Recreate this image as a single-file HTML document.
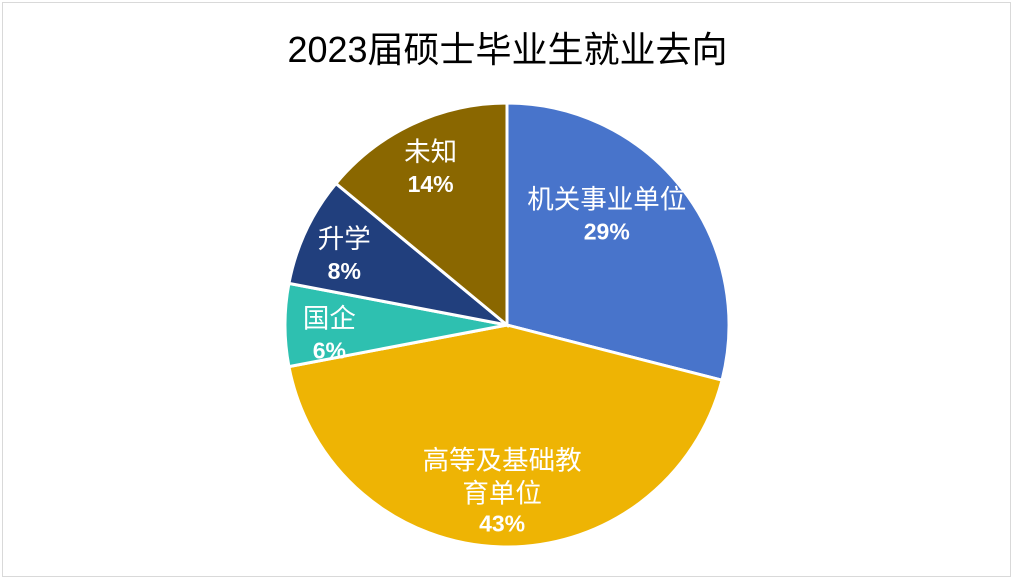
<!DOCTYPE html>
<html><head><meta charset="utf-8"><style>
body{margin:0;background:#fff;}
#wrap{position:relative;width:1015px;height:581px;overflow:hidden;background:#fff;}
#frame{position:absolute;left:2px;top:2px;width:1009px;height:575px;border:1px solid #d9d9d9;box-sizing:border-box;}
#title{position:absolute;left:0;top:21px;width:1015px;text-align:center;font:36px "Liberation Sans","Noto Sans CJK SC",sans-serif;color:#000;}
svg text{font-family:"Liberation Sans","Noto Sans CJK SC",sans-serif;fill:#fff;}
</style></head><body>
<div id="wrap">
<div id="frame"></div>
<div id="title">2023届硕士毕业生就业去向</div>
<svg id="pie" width="1015" height="581" style="position:absolute;left:0;top:0"></svg>
</div>
<script>
const categories=["机关事业单位","高等及基础教育单位","国企","升学","未知"];
const labelLines=[["机关事业单位"],["高等及基础教","育单位"],["国企"],["升学"],["未知"]];
const values=[29,43,6,8,14];
const valueLabels=["29%","43%","6%","8%","14%"];
const colors=["#4874CB","#EEB404","#2EC0B0","#213F7D","#8A6700"];
const nudgeX=[-23,0,0,-2,-14];
const nudgeY=[-15,11,9,5,-25];
const cx=507,cy=325,r=222;
const svg=document.getElementById('pie');
const NS='http://www.w3.org/2000/svg';
const total=values.reduce((a,b)=>a+b,0);
function pt(frac,rad){const a=frac*2*Math.PI;return [cx+rad*Math.sin(a),cy-rad*Math.cos(a)];}
let acc=0;
values.forEach((v,i)=>{
  const s=acc/total,e=(acc+v)/total;acc+=v;
  const p0=pt(s,r),p1=pt(e,r);
  const large=(e-s)>0.5?1:0;
  const path=document.createElementNS(NS,'path');
  path.setAttribute('d',`M${cx},${cy} L${p0[0]},${p0[1]} A${r},${r} 0 ${large} 1 ${p1[0]},${p1[1]} Z`);
  path.setAttribute('fill',colors[i]);
  path.setAttribute('stroke','#fff');
  path.setAttribute('stroke-width','3');
  
  
  svg.appendChild(path);
});
acc=0;
values.forEach((v,i)=>{
  const m=(acc+v/2)/total;acc+=v;
  const f=(v/total)<0.1?0.8:((v/total)<0.2?0.66:0.7);
  const c=pt(m,r*f);
  const x=c[0]+nudgeX[i];
  const lines=labelLines[i];
  const n=lines.length+1;
  const startY=c[1]-(n-1)*31/2+nudgeY[i];
  const g=document.createElementNS(NS,'g');
  
  
  lines.forEach((t,j)=>{
    const tx=document.createElementNS(NS,'text');
    tx.setAttribute('x',x);tx.setAttribute('y',startY+j*33+9);
    tx.setAttribute('text-anchor','middle');tx.setAttribute('font-size','26.5');
    tx.textContent=t;g.appendChild(tx);
  });
  const pv=document.createElementNS(NS,'text');
  pv.setAttribute('x',x);pv.setAttribute('y',startY+lines.length*31+9);
  pv.setAttribute('text-anchor','middle');pv.setAttribute('font-size','23');pv.setAttribute('font-weight','bold');
  pv.textContent=valueLabels[i];g.appendChild(pv);
  svg.appendChild(g);
});
</script>
</body></html>
